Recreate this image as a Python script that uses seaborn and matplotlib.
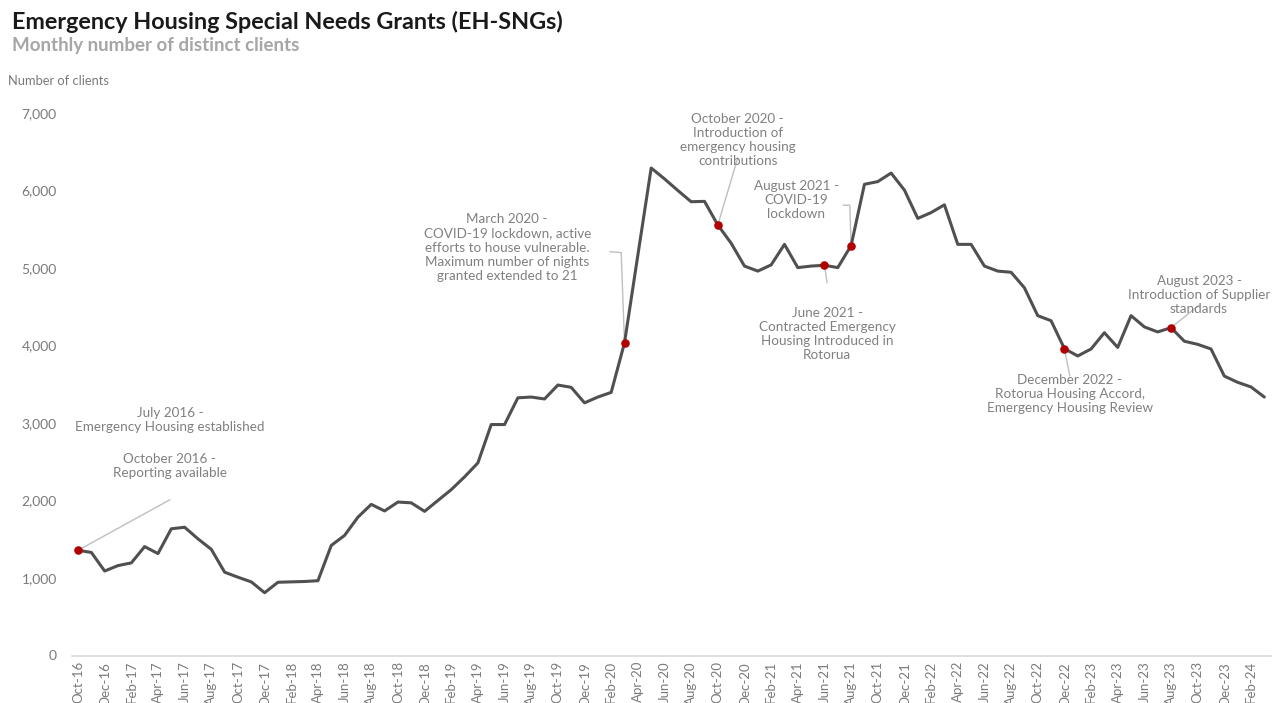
import numpy as np
import pandas as pd
import matplotlib
matplotlib.use("Agg")
import matplotlib.pyplot as plt
import seaborn as sns

# monthly distinct clients, Oct-16 .. Mar-24
months = pd.date_range("2016-10-01", "2024-03-01", freq="MS")
clients = [
    1357, 1330, 1090,
    1160, 1195, 1405, 1315, 1635, 1655, 1505, 1370, 1075, 1010, 950, 810,
    945, 950, 955, 965, 1420, 1550, 1785, 1950, 1865, 1980, 1970, 1860,
    2000, 2140, 2305, 2485, 2980, 2980, 3325, 3335, 3310, 3490, 3460, 3260,
    3335, 3395, 4035, 5165, 6290, 6150, 6000, 5855, 5860, 5555, 5320, 5025,
    4960, 5040, 5305, 5005, 5025, 5035, 5005, 5290, 6080, 6115, 6225, 6005,
    5640, 5715, 5815, 5305, 5305, 5025, 4960, 4945, 4745, 4385, 4320, 3960,
    3865, 3955, 4165, 3975, 4385, 4240, 4175, 4230, 4055, 4015, 3955, 3605,
    3525, 3465, 3335,
]
tick_labels = [m.strftime("%b-%y") for m in months]

# highlighted months (index into months)
event_idx = [0, 41, 48, 56, 58, 74, 82]

# annotation texts: (text, x idx, y value, leader path as list of (x idx, y value))
notes = [
    ("July 2016 -\nEmergency Housing established", 6.9, 3040, None),
    ("October 2016 -\nReporting available", 6.9, 2450, [(0, 1357), (6.9, 2010)]),
    ("March 2020 -\nCOVID-19 lockdown, active\nefforts to house vulnerable.\nMaximum number of nights\ngranted extended to 21",
     32.2, 5260, [(41, 4035), (40.75, 5200), (39.9, 5210)]),
    ("October 2020 -\nIntroduction of\nemergency housing\ncontributions",
     49.5, 6650, [(48, 5555), (49.5, 6425)]),
    ("August 2021 -\nCOVID-19\nlockdown", 53.9, 5880, [(58, 5290), (57.9, 5810), (57.4, 5810)]),
    ("June 2021 -\nContracted Emergency\nHousing Introduced in\nRotorua", 56.2, 4150, [(56, 5035), (56.2, 4810)]),
    ("December 2022 -\nRotorua Housing Accord,\nEmergency Housing Review", 74.4, 3375, [(74, 3960), (74.4, 3610)]),
    ("August 2023 -\nIntroduction of Supplier\nstandards", 84.1, 4650, [(82, 4230), (84.1, 4520)]),
]

df = pd.DataFrame({"idx": np.arange(len(clients)), "clients": clients})

sns.set_theme(style="white")
plt.rcParams["font.family"] = ["Lato", "DejaVu Sans"]

fig = plt.figure(figsize=(12.79, 7.03), dpi=100)
ax = fig.add_axes([72 / 1279, 1 - 655.5 / 703, (1271 - 72) / 1279, (655.5 - 113) / 703])

grey_txt = "#808080"
for text, tx, ty, path in notes:
    if path:
        xs, ys = zip(*path)
        ax.plot(xs, ys, color="#bfbfbf", lw=1.0, zorder=1)
    ax.text(tx, ty, text, ha="center", va="center", fontsize=9.7, color=grey_txt,
            linespacing=1.22, zorder=4)

sns.lineplot(data=df, x="idx", y="clients", ax=ax, color="#505050", linewidth=2.2, zorder=2)
ax.scatter(df["idx"].iloc[event_idx], df["clients"].iloc[event_idx], s=38,
           color="#b00000", zorder=3, linewidths=0)

ax.set_xlim(-0.45, 89.5)
ax.set_ylim(0, 7000)
ax.set_yticks(range(0, 7001, 1000))
ax.set_yticklabels([f"{v:,}" for v in range(0, 7001, 1000)], fontsize=10, color="#7a7a7a")
ax.set_xticks(range(0, len(months), 2))
ax.set_xticklabels(tick_labels[::2], rotation=90, fontsize=9.5, color="#7a7a7a")
ax.tick_params(axis="both", length=0)
ax.tick_params(axis="y", pad=11)
ax.tick_params(axis="x", pad=4)
ax.set_xlabel("")
ax.set_ylabel("")
for s in ["top", "right", "left"]:
    ax.spines[s].set_visible(False)
ax.spines["bottom"].set_color("#d9d9d9")
ax.spines["bottom"].set_linewidth(1.2)

fig.text(12 / 1279, 1 - 22 / 703, "Emergency Housing Special Needs Grants (EH-SNGs)",
         fontsize=16.8, fontweight="bold", color="#1a1a1a", va="center")
fig.text(12 / 1279, 1 - 46 / 703, "Monthly number of distinct clients",
         fontsize=13.5, fontweight="bold", color="#a6a6a6", va="center")
fig.text(8 / 1279, 1 - 81 / 703, "Number of clients", fontsize=9.3, color="#7a7a7a", va="center")

fig.savefig("out.png", dpi=100, facecolor="white")
